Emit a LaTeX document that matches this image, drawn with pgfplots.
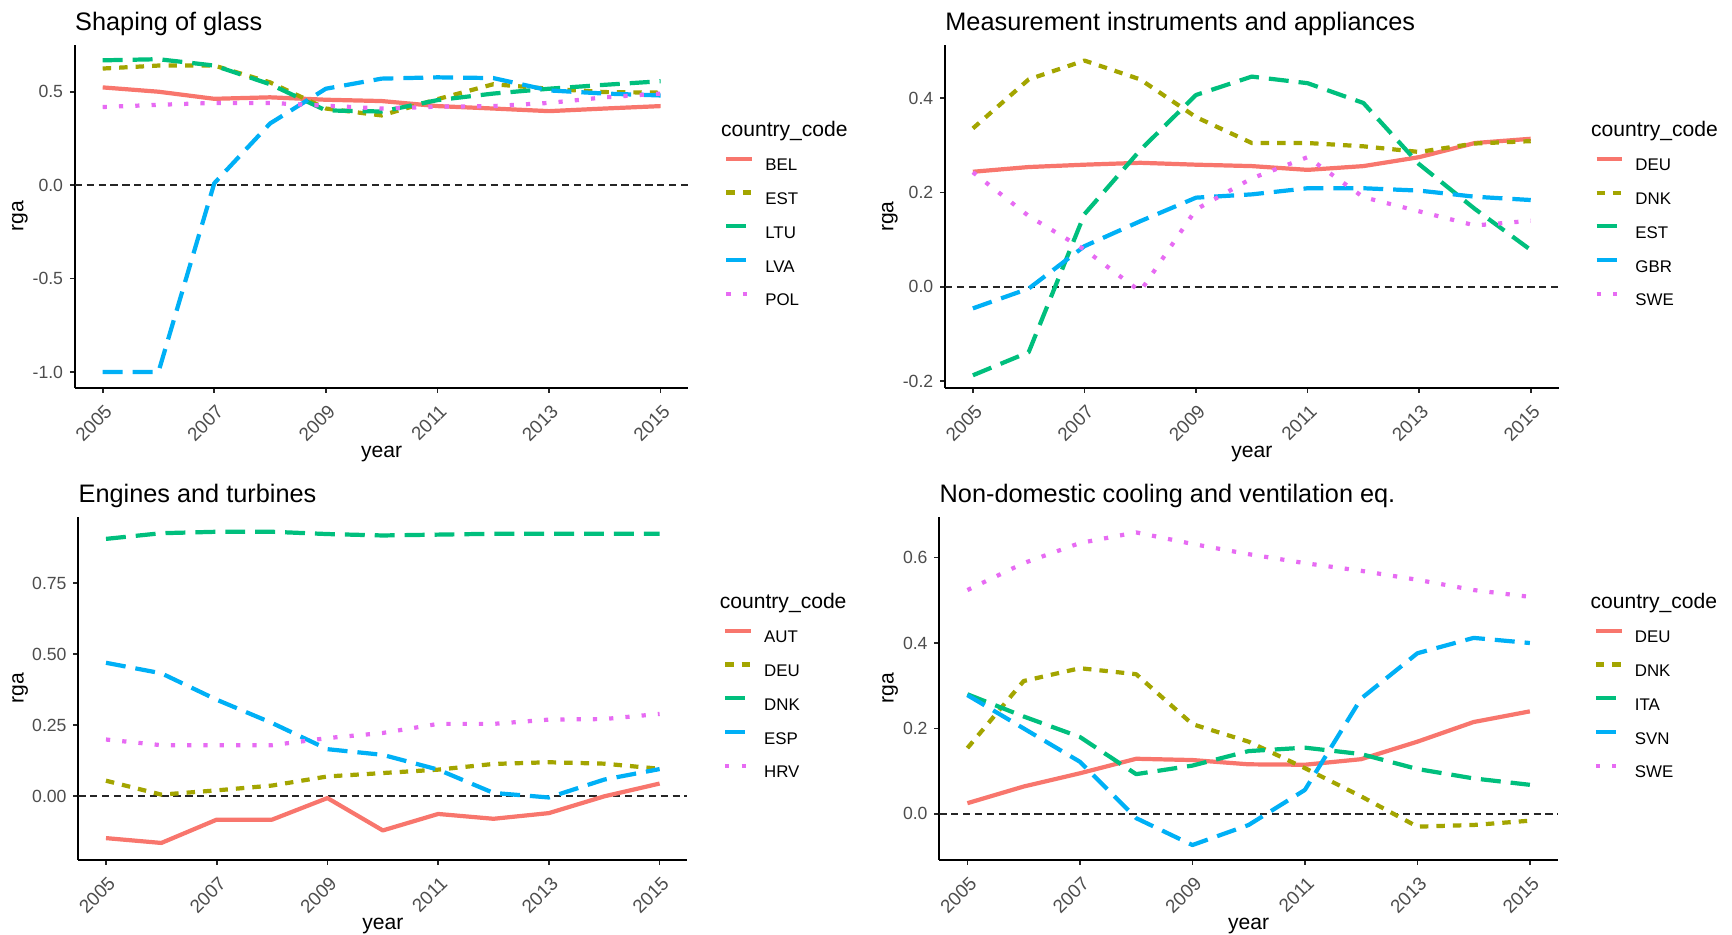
\documentclass[border=0pt]{standalone}
\usepackage{fontspec}
\setmainfont{Liberation Sans}
\usepackage{pgfplots}
\pgfplotsset{compat=1.18}
\definecolor{gR}{HTML}{F8766D}
\definecolor{gO}{HTML}{A3A500}
\definecolor{gG}{HTML}{00BF7D}
\definecolor{gB}{HTML}{00B0F6}
\definecolor{gP}{HTML}{E76BF3}
\definecolor{tickgrey}{HTML}{4D4D4D}
\pgfplotsset{
  c1/.style={color=gR, line width=2.2pt, solid},
  c2/.style={color=gO, line width=2.2pt, dash pattern=on 4.4pt off 4.2pt},
  c3/.style={color=gG, line width=2.2pt, dash pattern=on 10.4pt off 5.2pt},
  c4/.style={color=gB, line width=2.2pt, dash pattern=on 10.4pt off 5.2pt},
  c5/.style={color=gP, line width=2.2pt, dash pattern=on 2.2pt off 6.3pt},
  zero/.style={color=black!85, line width=1.05pt, dash pattern=on 3.8pt off 2.4pt, forget plot},
  panel/.style={
    scale only axis,
    height=178.94pt,
    xmin=2004.5, xmax=2015.5,
    axis x line*=bottom, axis y line*=left,
    axis line style={line width=1pt, black},
    xtick={2005,2007,2009,2011,2013,2015},
    xticklabels={2005,2007,2009,2011,2013,2015},
    tick align=outside, major tick length=2.6pt,
    every tick/.style={line width=0.9pt, black!85},
    xticklabel style={rotate=45, anchor=north east, font=\fontsize{9.8}{11}\selectfont, text=tickgrey, yshift=-0.8pt},
    yticklabel style={font=\fontsize{9.2}{11}\selectfont, text=tickgrey},
    title style={at={(0,1)}, anchor=base west, inner sep=0pt, yshift=1.8pt, font=\fontsize{13.2}{15}\selectfont},
    xlabel={year}, ylabel={rga},
    xlabel style={at={(axis description cs:0.5,0)}, anchor=center, yshift=-34.2pt, font=\fontsize{11}{13}\selectfont},
    ylabel style={anchor=center, font=\fontsize{11}{13}\selectfont},
    legend cell align=left,
    legend style={at={(1,1)}, anchor=north west, xshift=18.7pt, yshift=-58.3pt,
      draw=none, fill=none, inner sep=0pt, outer sep=0pt, row sep=10.2pt,
      font=\fontsize{8.8}{10}\selectfont,
      nodes={inner sep=0pt, outer sep=0pt, text height=6.3pt, text depth=0pt},
      /tikz/every odd column/.append style={column sep=5.8pt}},
    legend image code/.code={\draw[#1] (0pt,3.15pt) -- (13.4pt,3.15pt);},
    every axis plot/.append style={line join=round, line cap=butt, no marks, sharp plot},
    after end axis/.code={\node[anchor=west, inner sep=0pt, font=\fontsize{11}{13}\selectfont, xshift=16.8pt, yshift=-44.95pt] at (rel axis cs:1,1) {country\_code};},
  }
}
\begin{document}
\begin{tikzpicture}
\useasboundingbox (0pt,0pt) rectangle (903.6pt,-487.3pt);
% Panel 1
\begin{axis}[panel, at={(39.02pt,-202.42pt)}, anchor=south west, width=320.17pt,
  ymin=-1.086, ymax=0.75, ytick={-1,-0.5,0,0.5}, yticklabels={-1.0,-0.5,0.0,0.5},
  title={Shaping of glass}, ylabel style={at={(axis description cs:-0.0893,0.5)}}]
\addplot[zero] coordinates {(2004.5,0) (2015.5,0)};
\addplot[c1] coordinates {(2005,0.523)(2006,0.500)(2007,0.462)(2008,0.470)(2009,0.457)(2010,0.450)(2011,0.423)(2012,0.410)(2013,0.396)(2014,0.410)(2015,0.423)};
\addlegendentry{BEL}
\addplot[c2] coordinates {(2005,0.624)(2006,0.640)(2007,0.640)(2008,0.550)(2009,0.410)(2010,0.373)(2011,0.460)(2012,0.540)(2013,0.516)(2014,0.498)(2015,0.495)};
\addlegendentry{EST}
\addplot[c3] coordinates {(2005,0.668)(2006,0.674)(2007,0.640)(2008,0.540)(2009,0.400)(2010,0.394)(2011,0.455)(2012,0.490)(2013,0.516)(2014,0.537)(2015,0.556)};
\addlegendentry{LTU}
\addplot[c4] coordinates {(2005,-1.0)(2006,-1.0)(2007,0.01)(2008,0.33)(2009,0.516)(2010,0.570)(2011,0.577)(2012,0.573)(2013,0.507)(2014,0.490)(2015,0.480)};
\addlegendentry{LVA}
\addplot[c5] coordinates {(2005,0.418)(2006,0.430)(2007,0.440)(2008,0.440)(2009,0.425)(2010,0.410)(2011,0.420)(2012,0.423)(2013,0.440)(2014,0.470)(2015,0.490)};
\addlegendentry{POL}
\end{axis}
% Panel 2
\begin{axis}[panel, at={(493.01pt,-202.42pt)}, anchor=south west, width=320.12pt,
  ymin=-0.215, ymax=0.513, ytick={-0.2,0,0.2,0.4}, yticklabels={-0.2,0.0,0.2,0.4},
  title={Measurement instruments and appliances}, ylabel style={at={(axis description cs:-0.0897,0.5)}}]
\addplot[zero] coordinates {(2004.5,0) (2015.5,0)};
\addplot[c1] coordinates {(2005,0.244)(2006,0.254)(2007,0.259)(2008,0.263)(2009,0.259)(2010,0.256)(2011,0.248)(2012,0.256)(2013,0.275)(2014,0.305)(2015,0.314)};
\addlegendentry{DEU}
\addplot[c2] coordinates {(2005,0.336)(2006,0.440)(2007,0.480)(2008,0.440)(2009,0.360)(2010,0.305)(2011,0.305)(2012,0.298)(2013,0.286)(2014,0.304)(2015,0.309)};
\addlegendentry{DNK}
\addplot[c3] coordinates {(2005,-0.188)(2006,-0.139)(2007,0.154)(2008,0.290)(2009,0.407)(2010,0.446)(2011,0.432)(2012,0.390)(2013,0.260)(2014,0.165)(2015,0.078)};
\addlegendentry{EST}
\addplot[c4] coordinates {(2005,-0.046)(2006,-0.004)(2007,0.086)(2008,0.139)(2009,0.189)(2010,0.196)(2011,0.209)(2012,0.209)(2013,0.204)(2014,0.191)(2015,0.184)};
\addlegendentry{GBR}
\addplot[c5] coordinates {(2005,0.243)(2006,0.150)(2007,0.079)(2008,-0.010)(2009,0.164)(2010,0.230)(2011,0.275)(2012,0.190)(2013,0.160)(2014,0.130)(2015,0.140)};
\addlegendentry{SWE}
\end{axis}
% Panel 3
\begin{axis}[panel, at={(40.85pt,-448.66pt)}, anchor=south west, width=317.72pt,
  ymin=-0.224, ymax=0.983, ytick={0,0.25,0.5,0.75}, yticklabels={0.00,0.25,0.50,0.75},
  title={Engines and turbines}, ylabel style={at={(axis description cs:-0.0957,0.5)}}]
\addplot[zero] coordinates {(2004.5,0) (2015.5,0)};
\addplot[c1] coordinates {(2005,-0.147)(2006,-0.164)(2007,-0.082)(2008,-0.082)(2009,-0.006)(2010,-0.120)(2011,-0.062)(2012,-0.079)(2013,-0.059)(2014,0.000)(2015,0.045)};
\addlegendentry{AUT}
\addplot[c2] coordinates {(2005,0.055)(2006,0.006)(2007,0.021)(2008,0.038)(2009,0.070)(2010,0.082)(2011,0.094)(2012,0.114)(2013,0.120)(2014,0.115)(2015,0.097)};
\addlegendentry{DEU}
\addplot[c3] coordinates {(2005,0.906)(2006,0.926)(2007,0.931)(2008,0.931)(2009,0.923)(2010,0.918)(2011,0.921)(2012,0.924)(2013,0.924)(2014,0.924)(2015,0.924)};
\addlegendentry{DNK}
\addplot[c4] coordinates {(2005,0.470)(2006,0.433)(2007,0.340)(2008,0.258)(2009,0.166)(2010,0.146)(2011,0.094)(2012,0.012)(2013,-0.004)(2014,0.059)(2015,0.096)};
\addlegendentry{ESP}
\addplot[c5] coordinates {(2005,0.200)(2006,0.180)(2007,0.180)(2008,0.180)(2009,0.205)(2010,0.223)(2011,0.255)(2012,0.255)(2013,0.270)(2014,0.272)(2015,0.290)};
\addlegendentry{HRV}
\end{axis}
% Panel 4
\begin{axis}[panel, at={(490.03pt,-448.66pt)}, anchor=south west, width=322.78pt,
  ymin=-0.108, ymax=0.695, ytick={0,0.2,0.4,0.6}, yticklabels={0.0,0.2,0.4,0.6},
  title={Non-domestic cooling and ventilation eq.}, ylabel style={at={(axis description cs:-0.0796,0.5)}}]
\addplot[zero] coordinates {(2004.5,0) (2015.5,0)};
\addplot[c1] coordinates {(2005,0.025)(2006,0.064)(2007,0.095)(2008,0.129)(2009,0.126)(2010,0.116)(2011,0.115)(2012,0.128)(2013,0.169)(2014,0.215)(2015,0.240)};
\addlegendentry{DEU}
\addplot[c2] coordinates {(2005,0.154)(2006,0.311)(2007,0.341)(2008,0.327)(2009,0.210)(2010,0.169)(2011,0.107)(2012,0.041)(2013,-0.030)(2014,-0.026)(2015,-0.016)};
\addlegendentry{DNK}
\addplot[c3] coordinates {(2005,0.280)(2006,0.228)(2007,0.180)(2008,0.093)(2009,0.113)(2010,0.147)(2011,0.155)(2012,0.140)(2013,0.105)(2014,0.083)(2015,0.068)};
\addlegendentry{ITA}
\addplot[c4] coordinates {(2005,0.278)(2006,0.200)(2007,0.122)(2008,-0.010)(2009,-0.073)(2010,-0.026)(2011,0.056)(2012,0.270)(2013,0.376)(2014,0.412)(2015,0.400)};
\addlegendentry{SVN}
\addplot[c5] coordinates {(2005,0.524)(2006,0.587)(2007,0.634)(2008,0.659)(2009,0.632)(2010,0.608)(2011,0.587)(2012,0.569)(2013,0.548)(2014,0.524)(2015,0.508)};
\addlegendentry{SWE}
\end{axis}
\end{tikzpicture}
\end{document}
